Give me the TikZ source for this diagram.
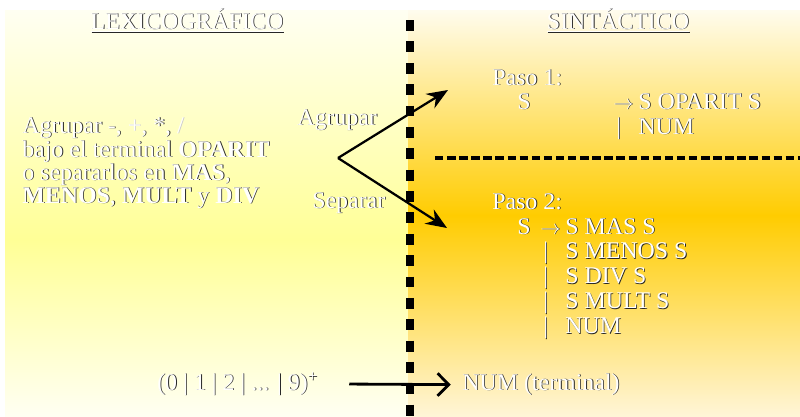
\documentclass[tikz,border=0pt]{standalone}
\usepackage{fontspec}
\setmainfont{Liberation Serif}
\usetikzlibrary{arrows.meta, positioning}

\definecolor{lexpale}{RGB}{255,255,242}
\definecolor{lexyellow}{RGB}{255,255,150}
\definecolor{sinpale}{RGB}{255,252,238}
\definecolor{sinyellow}{RGB}{255,204,0}
\definecolor{sinlow}{RGB}{255,245,215}

% white text with a dark edge
\newcommand{\emb}[1]{\rlap{\kern0.6pt\raisebox{-0.6pt}{\color{black!85}#1}}{\color{white}#1}}
\newcommand{\embl}[1]{\rlap{\kern0.6pt\raisebox{-0.6pt}{\color{black!20}#1}}{\color{white}#1}}
\newcommand{\prodto}{{\fontsize{14}{14}\selectfont$\to$}}

\begin{document}
\begin{tikzpicture}[
    x=0.025cm, y=-0.025cm,
    txt/.style={inner sep=0pt, anchor=base west, font=\fontsize{17}{17}\selectfont},
    head/.style={txt, anchor=base},
    arrow/.style={-{Stealth[length=15pt, width=12pt]}, line width=1.6pt},
    numarrow/.style={-{Straight Barb[length=8pt, width=16pt]}, line width=2pt}
]
\useasboundingbox (0,0) rectangle (800,416);

% panels
\shade[top color=lexpale, bottom color=lexyellow] (5,10) rectangle (409,241);
\shade[top color=lexyellow, bottom color=lexpale] (5,240) rectangle (409,416);
\shade[top color=sinpale, bottom color=sinyellow] (408,10) rectangle (800,216);
\shade[top color=sinyellow, bottom color=sinlow] (408,215) rectangle (800,416);

\draw[line width=5pt, dash pattern=on 7.8pt off 7.4pt] (410,20) -- (410,416);
\draw[line width=2.2pt, dash pattern=on 6pt off 2.6pt] (435,158) -- (800,158);

% headings
\node[head] (lexhead) at (187,29) {\emb{\underline{LEXICOGRÁFICO}}};
\node[head] (sinhead) at (618,29) {\emb{\underline{SINTÁCTICO}}};

% lexical side
\node[txt] (lex1) at (22,133) {\emb{Agrupar -, }\embl{+}\emb{, *, }\embl{/}};
\node[txt] (lex2) at (22,157) {\emb{bajo el terminal \textbf{OPARIT}}};
\node[txt] (lex3) at (22,180) {\emb{o separarlos en \textbf{MAS},}};
\node[txt] (lex4) at (22,203) {\emb{\textbf{MENOS}, \textbf{MULT} y \textbf{DIV}}};

\node[txt] (agrupar) at (297,125) {\emb{Agrupar}};
\node[txt] (separar) at (312,208) {\emb{Separar}};

\coordinate (fork) at (338,158);
\coordinate (paso1tip) at (448,90);
\coordinate (paso2tip) at (447,228);
\draw[arrow] (fork) -- (paso1tip);
\draw[arrow] (fork) -- (paso2tip);

% syntactic side, step 1
\node[txt] (paso1) at (492,85) {\emb{Paso 1:}};
\node[txt] (p1lhs) at (517,109) {\emb{S}};
\node[txt] (p1to) at (613,109) {\emb{\prodto}};
\node[txt] (p1rhs) at (638,109) {\emb{S OPARIT S}};
\node[txt] (p1bar) at (616,134) {\emb{|}};
\node[txt] (p1num) at (638,134) {\emb{NUM}};

% syntactic side, step 2
\node[txt] (paso2) at (492,209) {\emb{Paso 2:}};
\node[txt] (p2lhs) at (517,234) {\emb{S}};
\node[txt] (p2to) at (540,234) {\emb{\prodto}};
\node[txt] (p2rhs) at (565,234) {\emb{S MAS S}};
\foreach \alt [count=\i] in {S MENOS S, S DIV S, S MULT S, NUM} {
  \node[txt] (p2bar\i) at (543,234+24.8*\i) {\emb{|}};
  \node[txt] (p2alt\i) at (565,234+24.8*\i) {\emb{\alt}};
}

% digits
\node[txt] (digits) at (157,390) {\emb{(0 | 1 | 2 | ... | 9)\textsuperscript{+}}};
\node[txt] (numterm) at (462,390) {\emb{NUM (terminal)}};
\draw[numarrow, shorten <=22pt, shorten >=8pt] (digits.east) -- (numterm.west);

\end{tikzpicture}
\end{document}
